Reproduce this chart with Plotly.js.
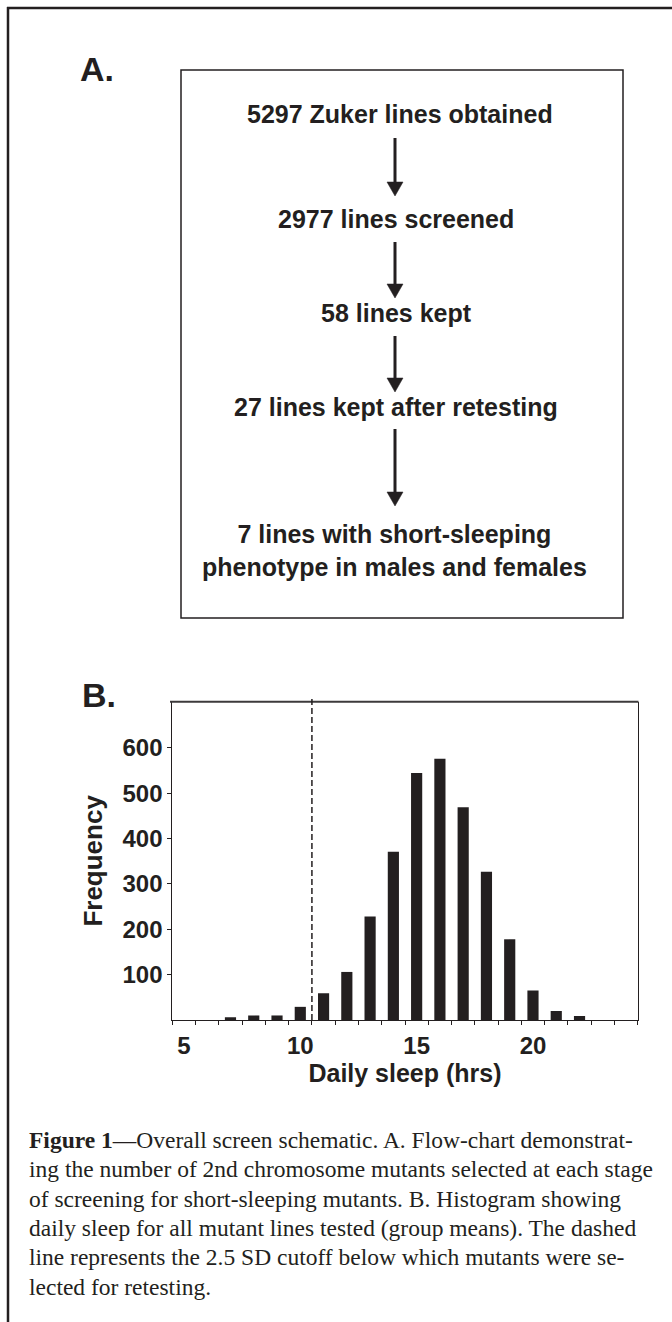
<!DOCTYPE html>
<html>
<head>
<meta charset="utf-8">
<script src="https://cdn.plot.ly/plotly-3.0.1.min.js"></script>
<style>
html,body{margin:0;padding:0;background:#ffffff;}
#chart{width:672px;height:1322px;}
</style>
</head>
<body>
<div id="chart"></div>
<script>
// ---------- data ----------
const sleepHours = [5,6,7,8,9,10,11,12,13,14,15,16,17,18,19,20,21,22,23,24];
const frequency  = [0,0,6,10,10,29,59,106,228,371,545,576,469,327,178,65,20,9,0,0];
const xTickVals  = [5,10,15,20];
const xTickText  = ['5','10','15','20'];
const yTickVals  = [100,200,300,400,500,600];
const yTickText  = ['100','200','300','400','500','600'];
const cutoffHours = 10.5;
const flowSteps = [
  '5297 Zuker lines obtained',
  '2977 lines screened',
  '58 lines kept',
  '27 lines kept after retesting',
  '7 lines with short-sleeping<br>phenotype in males and females'
];
const captionLines = [
  '<b>Figure 1</b>—Overall screen schematic. A. Flow-chart demonstrat-',
  'ing the number of 2nd chromosome mutants selected at each stage',
  'of screening for short-sleeping mutants. B. Histogram showing',
  'daily sleep for all mutant lines tested (group means). The dashed',
  'line represents the 2.5 SD cutoff below which mutants were se-',
  'lected for retesting.'
];

// ---------- layout helpers ----------
const W = 672, H = 1322;
const px = v => v / W;
const py = v => 1 - v / H;
const INK = '#231f20';
const SANS = 'Liberation Sans, Arial, sans-serif';
const SERIF = 'Liberation Serif, Times New Roman, serif';

const shapes = [];
const annotations = [];

// outer page frame (open at right/bottom)
shapes.push({type:'line', xref:'paper', yref:'paper', x0:px(7), x1:px(672), y0:py(8), y1:py(8), line:{color:INK, width:2.5}});
shapes.push({type:'line', xref:'paper', yref:'paper', x0:px(8), x1:px(8), y0:py(7), y1:py(1322), line:{color:INK, width:2.5}});

// panel A box
shapes.push({type:'rect', xref:'paper', yref:'paper', x0:px(181), x1:px(623), y0:py(70), y1:py(618), line:{color:INK, width:1.5}});

// panel labels
annotations.push({xref:'paper', yref:'paper', x:px(79), y:py(69.5), xanchor:'left', yanchor:'middle', showarrow:false, borderpad:0,
  text:'A.', font:{family:SANS, size:34, color:INK, weight:'bold'}});
annotations.push({xref:'paper', yref:'paper', x:px(81), y:py(694.5), xanchor:'left', yanchor:'middle', showarrow:false, borderpad:0,
  text:'B.', font:{family:SANS, size:34, color:INK, weight:'bold'}});

// flow-chart steps
const stepY = [114.5, 219, 313, 407, 550];
const stepX = [400, 396, 396, 396, 394];
flowSteps.forEach((t, i) => {
  annotations.push({xref:'paper', yref:'paper', x:px(stepX[i]), y:py(stepY[i]), xanchor:'center', yanchor:'middle',
    showarrow:false, borderpad:0, align:'center', text:t,
    font:{family:SANS, size:25, color:INK, weight:'bold'}});
});

// flow-chart arrows [top, tip]
const arrows = [[138,196],[242,298],[336,392],[429,506]];
const ax = 395;
arrows.forEach(([top, tip]) => {
  shapes.push({type:'line', xref:'paper', yref:'paper', x0:px(ax), x1:px(ax), y0:py(top), y1:py(tip-10), line:{color:INK, width:3}});
  shapes.push({type:'path', xref:'paper', yref:'paper', fillcolor:INK, line:{color:INK, width:0.5},
    path:`M ${px(ax-8)} ${py(tip-14)} L ${px(ax+8)} ${py(tip-14)} L ${px(ax)} ${py(tip)} Z`});
});

// histogram top frame line
shapes.push({type:'line', xref:'paper', yref:'paper', x0:px(170), x1:px(638.5), y0:py(701.7), y1:py(701.7), line:{color:'#3c3a3b', width:2}});

// cutoff dashed line
shapes.push({type:'line', xref:'x', yref:'y domain', x0:cutoffHours, x1:cutoffHours, y0:0, y1:1.012,
  line:{color:INK, width:1.5, dash:'6px,3px'}});

// caption
captionLines.forEach((t, i) => {
  annotations.push({xref:'paper', yref:'paper', x:px(28), y:py(1140 + 29.3*i), xanchor:'left', yanchor:'middle',
    showarrow:false, borderpad:0, align:'left', text:t,
    font:{family:SERIF, size:23.5, color:INK}});
});

const trace = {
  type:'bar',
  x: sleepHours,
  y: frequency,
  width: 0.48,
  marker:{color:INK, line:{width:0}},
  hoverinfo:'x+y'
};

const layout = {
  width: W, height: H,
  margin:{l:0, r:0, t:0, b:0, pad:0},
  paper_bgcolor:'#ffffff', plot_bgcolor:'#ffffff',
  showlegend:false,
  xaxis:{
    domain:[px(172.3), px(637.7)],
    range:[4.5, 24.5],
    automargin:false,
    showgrid:false, zeroline:false,
    showline:true, linecolor:INK, linewidth:1,
    tickmode:'array', tickvals:xTickVals, ticktext:xTickText,
    ticks:'outside', ticklen:4, tickcolor:'rgba(0,0,0,0)',
    tickfont:{family:SANS, size:24, color:INK, weight:'bold'},
    minor:{tickmode:'linear', tick0:4.5, dtick:1, ticks:'outside', ticklen:4, tickwidth:1, tickcolor:INK, showgrid:false},
    title:{text:'Daily sleep (hrs)', standoff:6, font:{family:SANS, size:25, color:INK, weight:'bold'}},
    fixedrange:true
  },
  yaxis:{
    domain:[py(1020), py(701.7)],
    range:[0, 702],
    automargin:false,
    showgrid:false, zeroline:false,
    showline:true, linecolor:INK, linewidth:1, mirror:true,
    tickmode:'array', tickvals:yTickVals, ticktext:yTickText,
    ticks:'outside', ticklen:4, tickwidth:1, tickcolor:INK,
    tickfont:{family:SANS, size:24, color:INK, weight:'bold'},
    title:{text:'Frequency', standoff:12, font:{family:SANS, size:26, color:INK, weight:'bold'}},
    fixedrange:true
  },
  shapes: shapes,
  annotations: annotations
};

Plotly.newPlot('chart', [trace], layout, {displayModeBar:false, staticPlot:true});
</script>
</body>
</html>
